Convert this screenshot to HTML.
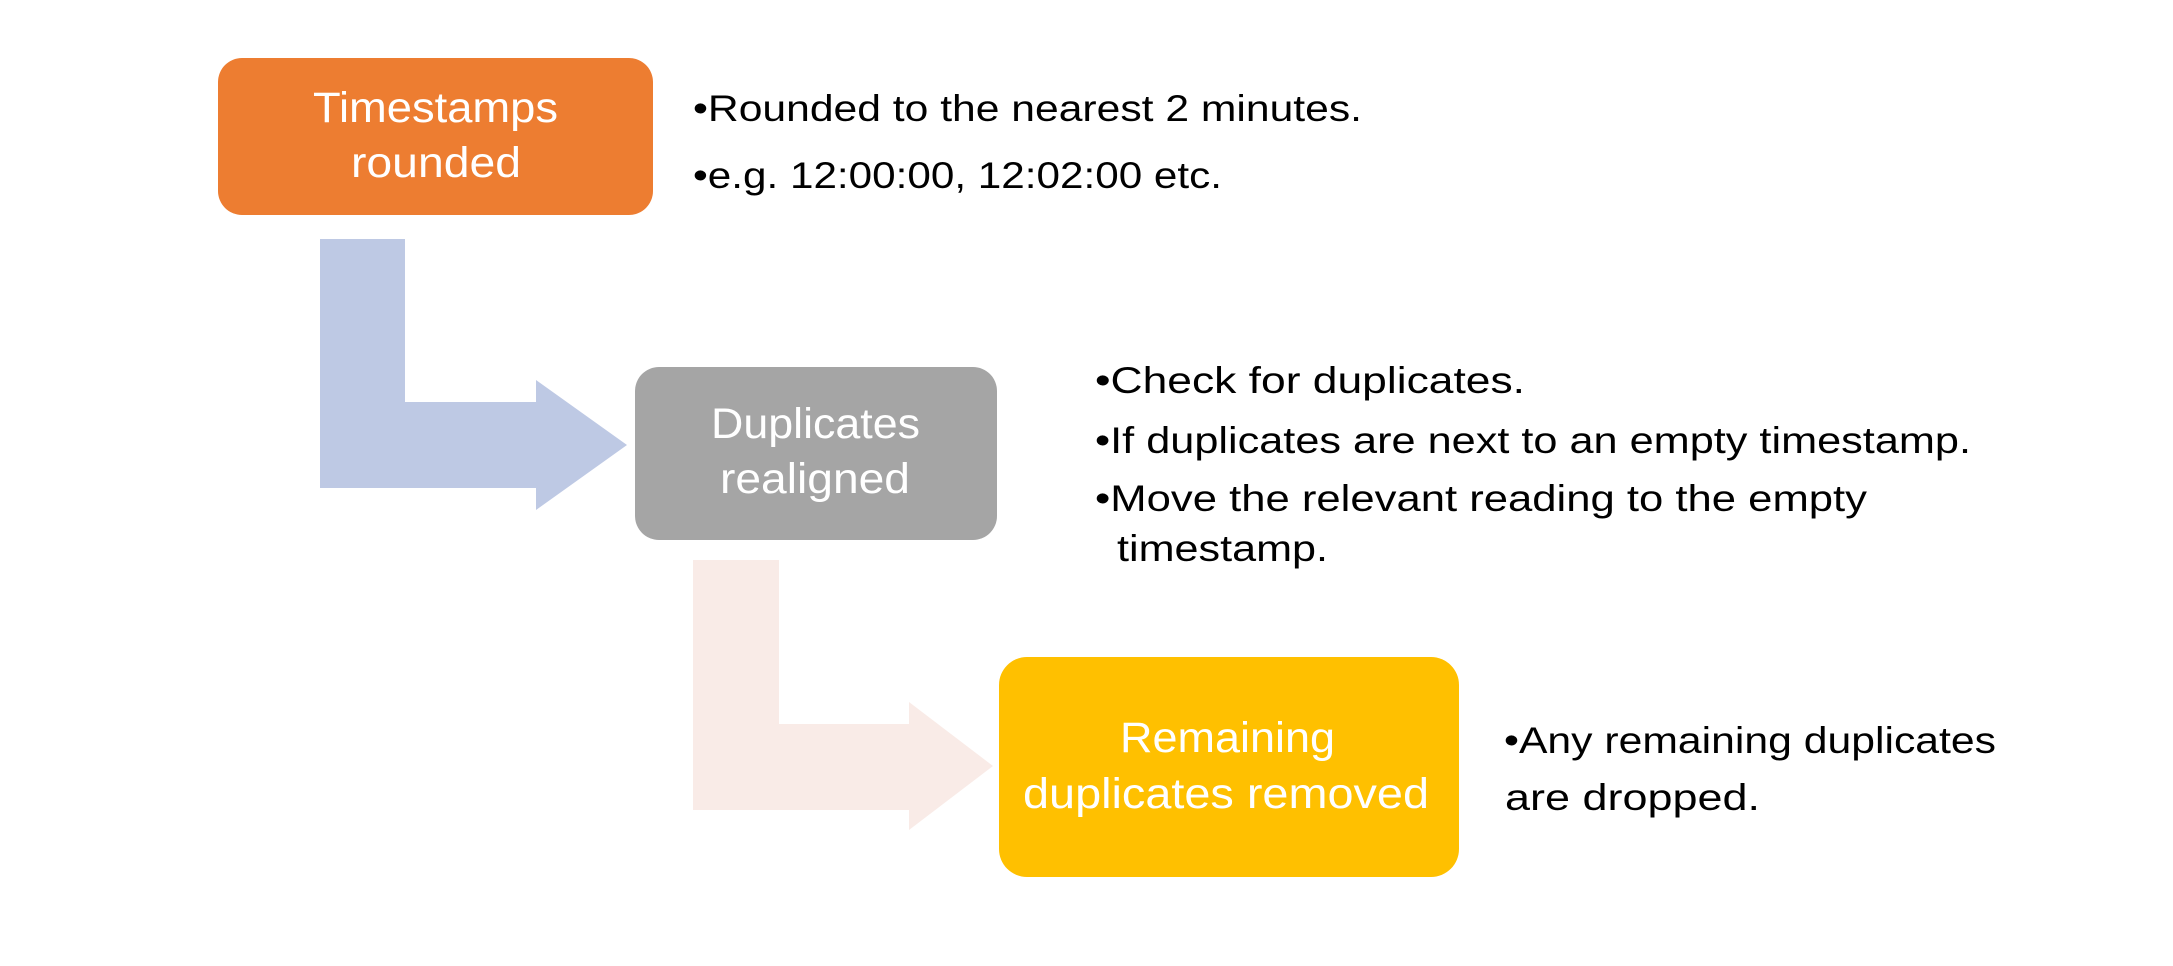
<!DOCTYPE html>
<html><head><meta charset="utf-8"><style>html,body{margin:0;padding:0;background:#fff}svg{display:block}</style></head>
<body>
<svg width="2173" height="966" viewBox="0 0 2173 966" xmlns="http://www.w3.org/2000/svg" font-family="Liberation Sans, sans-serif">
<rect width="2173" height="966" fill="#fff"/>
<polygon points="320,239 405,239 405,402 536,402 536,380 627,445 536,510 536,488 320,488" fill="#bec9e4"/>
<polygon points="693,560 779,560 779,724 909,724 909,702 993,766 909,830 909,810 693,810" fill="#f9ebe7"/>
<rect x="218" y="58" width="435" height="157" rx="24" fill="#ed7d31"/>
<rect x="635" y="367" width="362" height="173" rx="24" fill="#a5a5a5"/>
<rect x="999" y="657" width="460" height="220" rx="28" fill="#ffc000"/>
<g fill="#fff" font-size="43">
<text x="313" y="122" textLength="245" lengthAdjust="spacingAndGlyphs">Timestamps</text>
<text x="351" y="177" textLength="170" lengthAdjust="spacingAndGlyphs">rounded</text>
<text x="711" y="438" textLength="209" lengthAdjust="spacingAndGlyphs">Duplicates</text>
<text x="720" y="493" textLength="190" lengthAdjust="spacingAndGlyphs">realigned</text>
<text x="1120" y="752" textLength="215" lengthAdjust="spacingAndGlyphs">Remaining</text>
<text x="1023" y="808" textLength="406" lengthAdjust="spacingAndGlyphs">duplicates removed</text>
</g>
<g fill="#000" font-size="37">
<text x="693" y="121" textLength="669" lengthAdjust="spacingAndGlyphs">•Rounded to the nearest 2 minutes.</text>
<text x="693" y="188" textLength="529" lengthAdjust="spacingAndGlyphs">•e.g. 12:00:00, 12:02:00 etc.</text>
<text x="1095" y="393" textLength="430" lengthAdjust="spacingAndGlyphs">•Check for duplicates.</text>
<text x="1095" y="453" textLength="876" lengthAdjust="spacingAndGlyphs">•If duplicates are next to an empty timestamp.</text>
<text x="1095" y="511" textLength="772" lengthAdjust="spacingAndGlyphs">•Move the relevant reading to the empty</text>
<text x="1117" y="561" textLength="211" lengthAdjust="spacingAndGlyphs">timestamp.</text>
<text x="1504" y="753" textLength="492" lengthAdjust="spacingAndGlyphs">•Any remaining duplicates</text>
<text x="1505" y="810" textLength="255" lengthAdjust="spacingAndGlyphs">are dropped.</text>
</g>
</svg>
</body></html>
